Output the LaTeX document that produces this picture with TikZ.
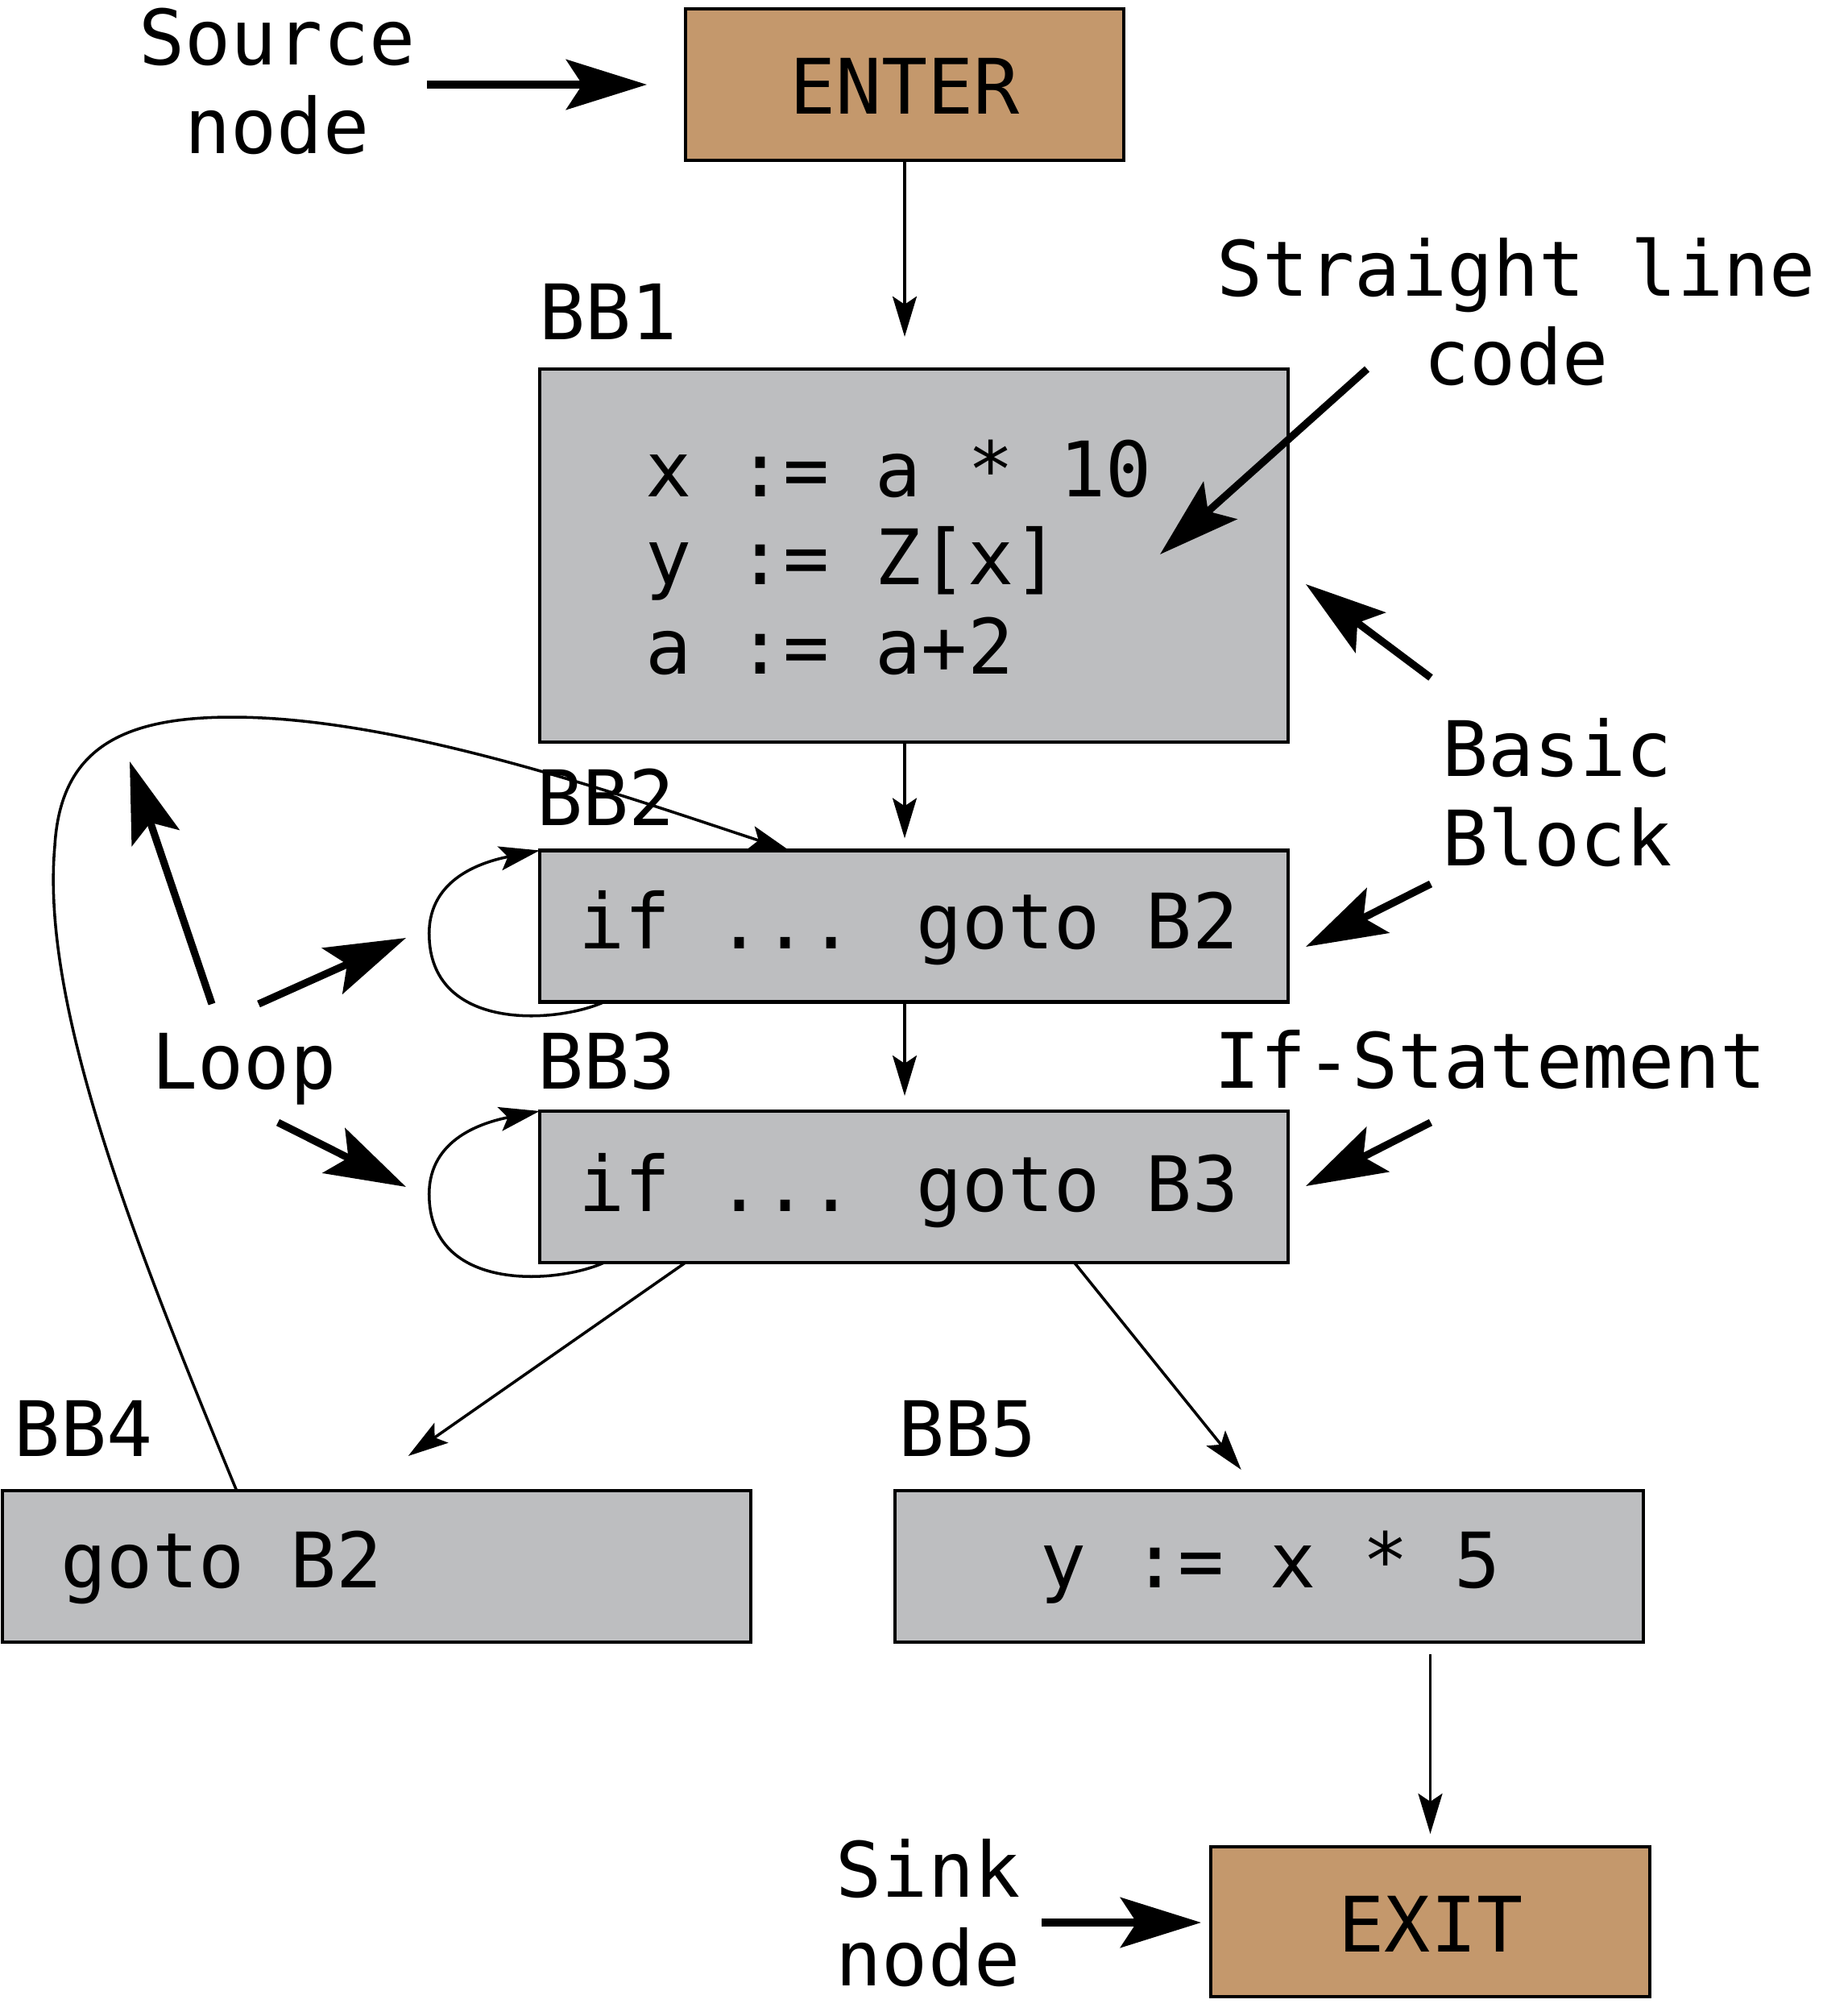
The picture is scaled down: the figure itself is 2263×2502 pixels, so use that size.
\documentclass[tikz,border=0pt]{standalone}
\usepackage{fontspec}
\setmainfont{DejaVu Sans Mono}
\usetikzlibrary{arrows.meta,calc}
\definecolor{bbgray}{RGB}{189,190,192}
\definecolor{entertan}{RGB}{196,152,108}
\tikzset{
  box/.style={draw=black, line width=1.2pt, fill=bbgray, minimum width=9.29cm, minimum height=1.88cm, inner sep=0pt, outer sep=0pt},
  termbox/.style={box, fill=entertan, minimum width=5.44cm},
  txt/.style={inner sep=0pt, outer sep=0pt, font=\fontsize{27}{32}\selectfont},
  conn/.style={line width=1pt, -{Stealth[length=0.5cm,width=0.3cm,inset=0.1cm]}},
  anno/.style={line width=2.6pt, -{Stealth[length=1cm,width=0.62cm,inset=0.2cm]}},
}
\newcommand\selfloopdraw[1]{%
  \draw[conn] ($(#1.south west)+(80,0)$) .. controls ($(#1.south west)+(20,27)$) and ($(#1.south west)+(-137,37)$) .. ($(#1.south west)+(-137,-85)$)
     .. controls ($(#1.north west)+(-137,34)$) and ($(#1.north west)+(-70,14)$) .. (#1.north west);}
\begin{document}
\begin{tikzpicture}[x=0.01cm, y=-0.01cm]
\useasboundingbox (0,0) rectangle (2263,2502);

% boxes
\node[termbox] (enter) at (1123,105) {};
\node[box, minimum height=4.63cm] (bb1) at (1134.5,689.5) {};
\node[box] (bb2) at (1134.5,1149.5) {};
\node[box] (bb3) at (1134.5,1473) {};
\node[box] (bb4) at (467.5,1944) {};
\node[box] (bb5) at (1575.5,1944) {};
\node[termbox, minimum height=1.86cm] (exit) at (1775.5,2385) {};

% box texts
\node[txt, anchor=base] (entertxt) at (1123,141) {ENTER};
\node[txt, anchor=base] (exittxt) at (1776,2422) {EXIT};
\node[txt, anchor=base west] (c1) at (801,616) {x := a * 10};
\node[txt, anchor=base west] (c2) at (801,725) {y := Z[x]};
\node[txt, anchor=base west] (c3) at (801,836) {a := a+2};
\node[txt, anchor=base west] (t2) at (718,1177) {if ... goto B2};
\node[txt, anchor=base west] (t3) at (718,1503) {if ... goto B3};
\node[txt, anchor=base west] (t4) at (75,1970) {goto B2};
\node[txt, anchor=base] (t5) at (1577,1970) {y := x * 5};

% block labels
\node[txt, anchor=base west] (l1) at (669,421) {BB1};
\node[txt, anchor=base west] (l2) at (666,1024) {BB2};
\node[txt, anchor=base west] (l3) at (667,1351) {BB3};
\node[txt, anchor=base west] (l4) at (18,1807) {BB4};
\node[txt, anchor=base west] (l5) at (1115,1807) {BB5};

% annotation texts
\node[txt, anchor=base] (src1) at (344,80) {Source};
\node[txt, anchor=base] (src2) at (344,190) {node};
\node[txt, anchor=base] (slc1) at (1882,367) {Straight line};
\node[txt, anchor=base] (slc2) at (1882,477) {code};
\node[txt, anchor=base west] (bas1) at (1790,963) {Basic};
\node[txt, anchor=base west] (bas2) at (1790,1074) {Block};
\node[txt, anchor=base] (ifs) at (1850,1350) {If-Statement};
\node[txt, anchor=base] (loop) at (303,1351) {Loop};
\node[txt, anchor=base] (snk1) at (1152,2354) {Sink};
\node[txt, anchor=base] (snk2) at (1152,2464) {node};

% flow connectors
\draw[conn] (enter.south) -- ($(enter.south |- bb1.north)+(0,-40)$);
\draw[conn] (enter.south |- bb1.south) -- ($(enter.south |- bb2.north)+(0,-15)$);
\draw[conn] (enter.south |- bb2.south) -- ($(enter.south |- bb3.north)+(0,-19)$);
\draw[conn] ($(bb3.south west)+(181,0)$) -- ($(bb4.north west)+(504,-43)$);
\draw[conn] ($(bb3.south west)+(664,0)$) -- ($(bb5.north west)+(430,-26)$);
\draw[conn] ($(exit.north |- bb5.south)+(0,15)$) -- ($(exit.north)+(0,-16)$);
\selfloopdraw{bb2}
\selfloopdraw{bb3}
\draw[conn] ($(bb4.north west)+(291,0)$) .. controls (170,1550) and (50,1250) .. (68,1050)
   .. controls (75,930) and (150,890) .. (288,890)
   .. controls (500,890) and (780,990) .. ($(bb2.north west)+(310,0)$);

% annotation arrows
\coordinate (aSrcT) at (530,105);   \coordinate (aSrcH) at (803,105);
\coordinate (aSlcT) at (1697,458);  \coordinate (aSlcH) at (1440,688);
\coordinate (aB1T) at (1776,841);   \coordinate (aB1H) at (1621,725);
\coordinate (aB2T) at (1776,1097);  \coordinate (aB2H) at (1621,1175);
\coordinate (aIfT) at (1776,1393);  \coordinate (aIfH) at (1621,1472);
\coordinate (aL1T) at (263,1246);   \coordinate (aL1H) at (161,945);
\coordinate (aL2T) at (321,1246);   \coordinate (aL2H) at (504,1164);
\coordinate (aL3T) at (345,1393);   \coordinate (aL3H) at (504,1473);
\coordinate (aSkT) at (1293,2386);  \coordinate (aSkH) at (1491,2386);
\draw[anno] (aSrcT) -- (aSrcH);
\draw[anno] (aSlcT) -- (aSlcH);
\draw[anno] (aB1T) -- (aB1H);
\draw[anno] (aB2T) -- (aB2H);
\draw[anno] (aIfT) -- (aIfH);
\draw[anno] (aL1T) -- (aL1H);
\draw[anno] (aL2T) -- (aL2H);
\draw[anno] (aL3T) -- (aL3H);
\draw[anno] (aSkT) -- (aSkH);
\end{tikzpicture}
\end{document}
